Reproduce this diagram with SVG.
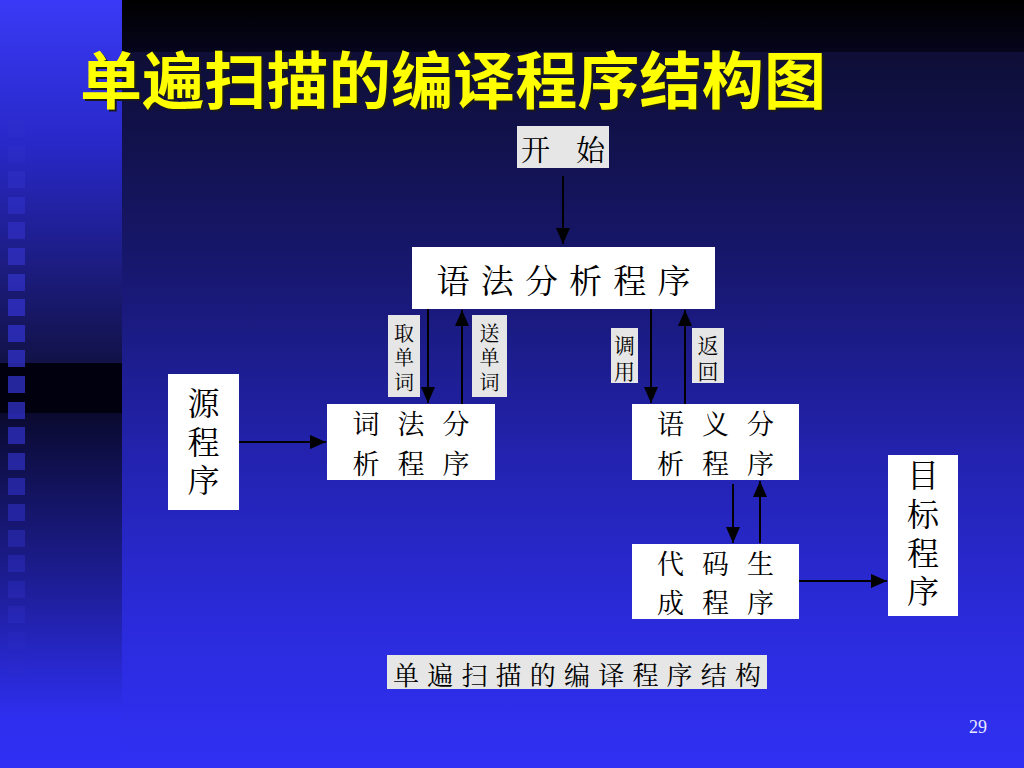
<svg xmlns="http://www.w3.org/2000/svg" width="1024" height="768" viewBox="0 0 1024 768">
  <defs>
    <linearGradient id="gTopR" x1="0" y1="0" x2="0" y2="1">
      <stop offset="0" stop-color="#000000"/>
      <stop offset="1" stop-color="#05051c"/>
    </linearGradient>
    <linearGradient id="gMainR" x1="0" y1="0" x2="0" y2="1">
      <stop offset="0" stop-color="#0e0e36"/>
      <stop offset="0.3" stop-color="#17176e"/>
      <stop offset="0.55" stop-color="#2222ac"/>
      <stop offset="0.8" stop-color="#2b2bdc"/>
      <stop offset="1" stop-color="#3030f4"/>
    </linearGradient>
    <linearGradient id="gLeftTop" x1="0" y1="0" x2="0" y2="1">
      <stop offset="0" stop-color="#3a3af6"/>
      <stop offset="0.4" stop-color="#2828c8"/>
      <stop offset="1" stop-color="#121248"/>
    </linearGradient>
    <linearGradient id="gLeftBot" x1="0" y1="0" x2="0" y2="1">
      <stop offset="0" stop-color="#0a0a30"/>
      <stop offset="0.5" stop-color="#1e1e9a"/>
      <stop offset="0.85" stop-color="#2e2eee"/>
      <stop offset="1" stop-color="#3030f4"/>
    </linearGradient>
    <marker id="ah" viewBox="0 0 16 14" refX="16" refY="7" markerWidth="16" markerHeight="14" markerUnits="userSpaceOnUse" orient="auto">
      <path d="M0,0 L16,7 L0,14 Z" fill="#000"/>
    </marker>
  </defs>
  <style>
    .box { fill: #ffffff; }
    .lbl { fill: #e6e6e6; }
    .cjk { font-family: "Noto Serif CJK SC", "Noto Sans CJK SC", serif; fill: #000; text-anchor: middle; dominant-baseline: central; }
    .vert { font-family: "Noto Serif CJK SC", "Noto Sans CJK SC", serif; fill: #000; text-anchor: middle; writing-mode: vertical-rl; }
    .t2l { font-size: 27px; letter-spacing: 18px; }
    .tv { font-size: 32px; letter-spacing: 6.7px; }
    .t20 { font-size: 20px; letter-spacing: 4.5px; }
    .t21 { font-size: 21px; letter-spacing: 5px; }
    .conn { stroke: #000; stroke-width: 2; fill: none; marker-end: url(#ah); }
    .sq { fill: #3232cc; }
  </style>

  <!-- background -->
  <g id="background">
    <rect x="0" y="0" width="1024" height="768" fill="#3030f4"/>
    <rect x="122" y="0" width="902" height="52" fill="url(#gTopR)"/>
    <rect x="122" y="52" width="902" height="716" fill="url(#gMainR)"/>
    <rect x="0" y="0" width="122" height="363" fill="url(#gLeftTop)"/>
    <rect x="0" y="363" width="122" height="50" fill="#00000e"/>
    <rect x="0" y="413" width="122" height="355" fill="url(#gLeftBot)"/>
    <g id="squares">
      <rect class="sq" x="8" y="120" width="17" height="17" opacity="0.25"/>
      <rect class="sq" x="8" y="146" width="17" height="17" opacity="0.35"/>
      <rect class="sq" x="8" y="171" width="17" height="17" opacity="0.45"/>
      <rect class="sq" x="8" y="197" width="17" height="17" opacity="0.55"/>
      <rect class="sq" x="8" y="222" width="17" height="17" opacity="0.6"/>
      <rect class="sq" x="8" y="248" width="17" height="17" opacity="0.65"/>
      <rect class="sq" x="8" y="274" width="17" height="17" opacity="0.7"/>
      <rect class="sq" x="8" y="299" width="17" height="17" opacity="0.75"/>
      <rect class="sq" x="8" y="325" width="17" height="17" opacity="0.75"/>
      <rect class="sq" x="8" y="350" width="17" height="17" opacity="0.75"/>
      <rect class="sq" x="8" y="376" width="17" height="17" opacity="0.75"/>
      <rect class="sq" x="8" y="402" width="17" height="17" opacity="0.75"/>
      <rect class="sq" x="8" y="427" width="17" height="17" opacity="0.7"/>
      <rect class="sq" x="8" y="453" width="17" height="17" opacity="0.65"/>
      <rect class="sq" x="8" y="478" width="17" height="17" opacity="0.6"/>
      <rect class="sq" x="8" y="504" width="17" height="17" opacity="0.55"/>
      <rect class="sq" x="8" y="530" width="17" height="17" opacity="0.45"/>
      <rect class="sq" x="8" y="555" width="17" height="17" opacity="0.4"/>
      <rect class="sq" x="8" y="581" width="17" height="17" opacity="0.35"/>
      <rect class="sq" x="8" y="606" width="17" height="17" opacity="0.3"/>
      <rect class="sq" x="8" y="632" width="17" height="17" opacity="0.2"/>
      <rect class="sq" x="8" y="658" width="17" height="17" opacity="0.12"/>
    </g>
  </g>

  <!-- title -->
  <g id="title">
    <text x="82" y="79" font-family="'Noto Sans CJK SC', 'Noto Sans CJK TC', sans-serif" font-size="62" font-weight="bold" fill="#1a1a1a" dominant-baseline="central" textLength="746" lengthAdjust="spacing">单遍扫描的编译程序结构图</text>
    <text x="80" y="77" font-family="'Noto Sans CJK SC', 'Noto Sans CJK TC', sans-serif" font-size="62" font-weight="bold" fill="#ffff00" dominant-baseline="central" textLength="746" lengthAdjust="spacing">单遍扫描的编译程序结构图</text>
  </g>

  <!-- connectors -->
  <g id="connectors">
    <line class="conn" x1="563" y1="176" x2="563" y2="244"/>
    <line class="conn" x1="428" y1="309" x2="428" y2="403"/>
    <line class="conn" x1="462" y1="404" x2="462" y2="310"/>
    <line class="conn" x1="651" y1="309" x2="651" y2="403"/>
    <line class="conn" x1="685" y1="404" x2="685" y2="310"/>
    <line class="conn" x1="239" y1="442" x2="326" y2="442"/>
    <line class="conn" x1="733" y1="484" x2="733" y2="543"/>
    <line class="conn" x1="760" y1="543" x2="760" y2="481"/>
    <line class="conn" x1="799" y1="581" x2="887" y2="581"/>
  </g>

  <!-- nodes -->
  <g id="start">
    <rect class="lbl" x="517" y="126" width="92" height="42"/>
    <text class="cjk" x="563" y="148" font-size="29" textLength="84" lengthAdjust="spacing">开始</text>
  </g>

  <g id="syntax">
    <rect class="box" x="412" y="247" width="303" height="62"/>
    <text class="cjk" x="563.5" y="278" font-size="33" textLength="254" lengthAdjust="spacing">语法分析程序</text>
  </g>

  <g id="label-get-word">
    <rect class="lbl" x="388" y="315" width="32" height="82"/>
    <text class="vert t20" x="404" y="359.8">取单词</text>
  </g>

  <g id="label-send-word">
    <rect class="lbl" x="472" y="315" width="35" height="82"/>
    <text class="vert t20" x="489.5" y="359.8">送单词</text>
  </g>

  <g id="label-call">
    <rect class="lbl" x="611" y="328" width="27" height="55"/>
    <text class="vert t21" x="624.5" y="360.5">调用</text>
  </g>

  <g id="label-return">
    <rect class="lbl" x="692" y="328" width="32" height="55"/>
    <text class="vert t21" x="708" y="360.5">返回</text>
  </g>

  <g id="source">
    <rect class="box" x="168" y="374" width="71" height="136"/>
    <text class="vert tv" x="203.5" y="445">源程序</text>
  </g>

  <g id="lexer">
    <rect class="box" x="327" y="404" width="168" height="76"/>
    <text class="cjk t2l" x="420" y="422"><tspan x="420">词法分</tspan><tspan x="420" dy="39.5">析程序</tspan></text>
  </g>

  <g id="semantic">
    <rect class="box" x="632" y="404" width="167" height="76"/>
    <text class="cjk t2l" x="724.5" y="422"><tspan x="724.5">语义分</tspan><tspan x="724.5" dy="39.5">析程序</tspan></text>
  </g>

  <g id="codegen">
    <rect class="box" x="632" y="544" width="167" height="75"/>
    <text class="cjk t2l" x="724.5" y="561.5"><tspan x="724.5">代码生</tspan><tspan x="724.5" dy="39.5">成程序</tspan></text>
  </g>

  <g id="target">
    <rect class="box" x="888" y="455" width="70" height="161"/>
    <text class="vert tv" x="923" y="536.4">目标程序</text>
  </g>

  <g id="caption">
    <rect class="lbl" x="387" y="655" width="380" height="34"/>
    <text class="cjk" x="577" y="673" font-size="26" textLength="368" lengthAdjust="spacing">单遍扫描的编译程序结构</text>
  </g>

  <g id="page-number">
    <text x="978" y="727" font-family="'Liberation Serif', serif" font-size="18" fill="#e8e8ff" text-anchor="middle" dominant-baseline="central">29</text>
  </g>
</svg>
